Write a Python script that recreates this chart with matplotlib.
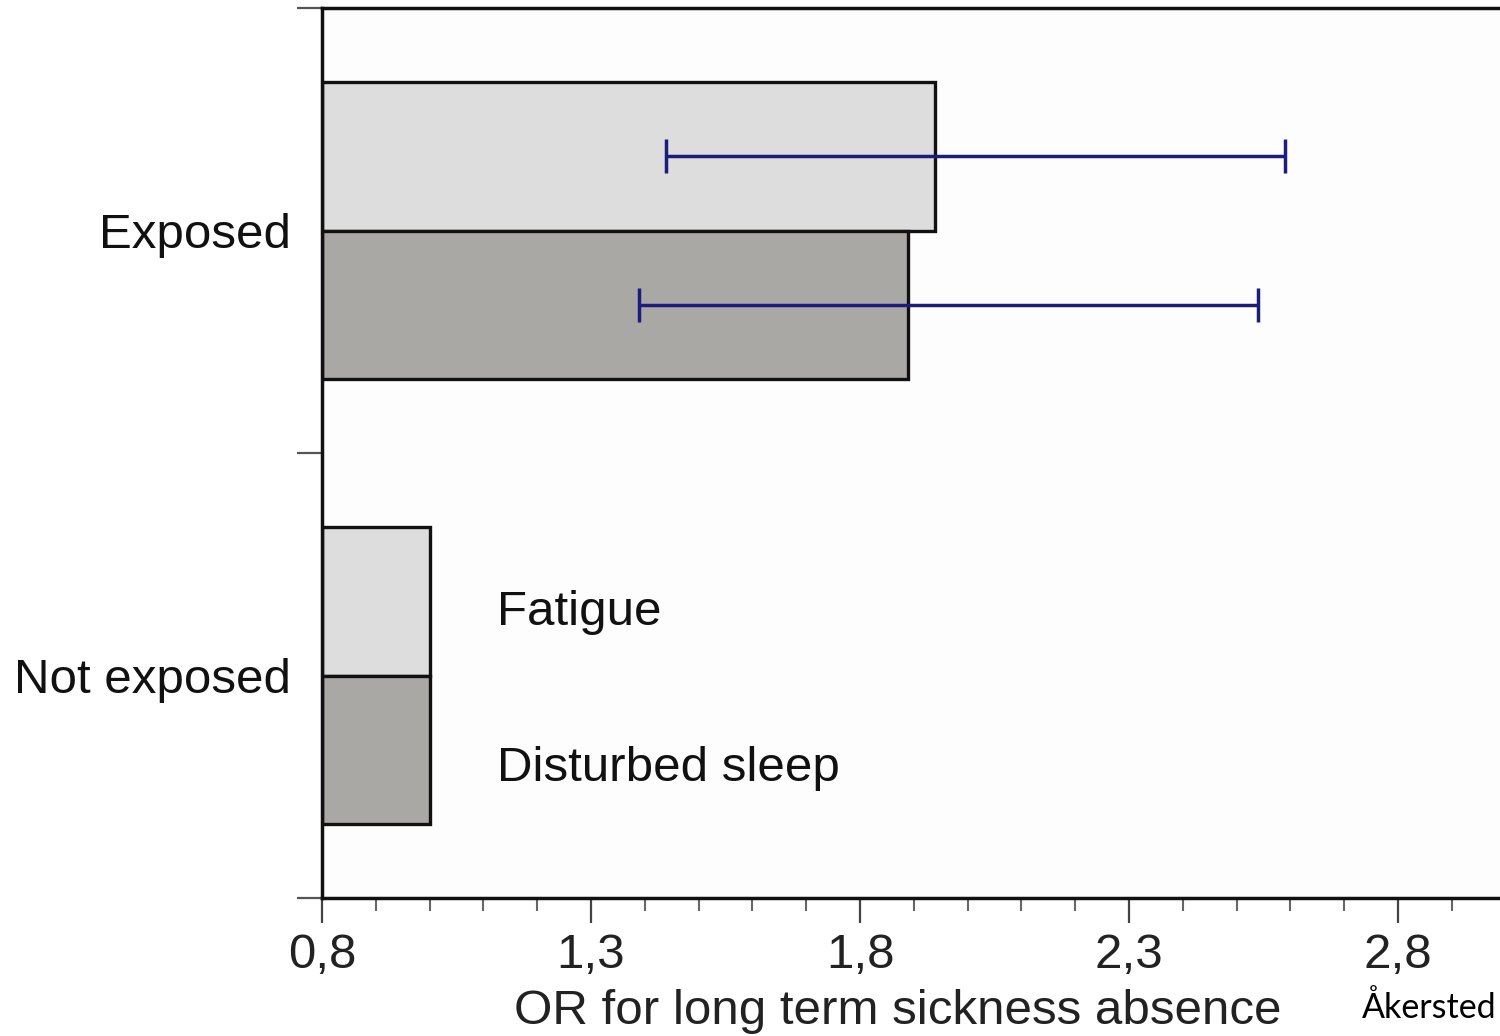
import matplotlib
matplotlib.use("Agg")
import matplotlib.pyplot as plt
import numpy as np

# Data
groups = ["Not exposed", "Exposed"]
series = ["Fatigue", "Disturbed sleep"]
or_fatigue = [1.0, 1.94]
or_sleep = [1.0, 1.89]
ci_fatigue_low = [None, 1.44]
ci_fatigue_high = [None, 2.59]
ci_sleep_low = [None, 1.39]
ci_sleep_high = [None, 2.54]
xticks = [0.8, 1.3, 1.8, 2.3, 2.8]
xticklabels = ["0,8", "1,3", "1,8", "2,3", "2,8"]

plt.rcParams['font.family'] = ['Liberation Sans', 'DejaVu Sans']

fig = plt.figure(figsize=(15, 10.36), dpi=100)
ax = fig.add_axes([322/1500, 1-898/1036, 1-322/1500, (898-8)/1036])
ax.set_facecolor('#fdfdfd')

base = 0.8
h = 1/3
c_fat = '#dcdddc'
c_slp = '#aaa8a5'
err_c = '#1c1c7c'
FS = 35.5
for i in range(len(groups)):
    yf = i + 0.5 + h/2
    ys = i + 0.5 - h/2
    ax.barh(yf, or_fatigue[i]-base, left=base, height=h, color=c_fat,
            edgecolor='#111111', linewidth=2.4, zorder=2)
    ax.barh(ys, or_sleep[i]-base, left=base, height=h, color=c_slp,
            edgecolor='#111111', linewidth=2.4, zorder=2)
    if ci_fatigue_low[i] is not None:
        ax.errorbar([(ci_fatigue_low[i]+ci_fatigue_high[i])/2], [yf],
                    xerr=[[(ci_fatigue_high[i]-ci_fatigue_low[i])/2]],
                    fmt='none', ecolor=err_c, elinewidth=2.5, capsize=12,
                    capthick=2.5, zorder=3)
        ax.errorbar([(ci_sleep_low[i]+ci_sleep_high[i])/2], [ys],
                    xerr=[[(ci_sleep_high[i]-ci_sleep_low[i])/2]],
                    fmt='none', ecolor=err_c, elinewidth=2.5, capsize=12,
                    capthick=2.5, zorder=3)

ax.text(1.125, 0.5 + h/2 - 0.025, series[0], fontsize=FS, va='center', ha='left', color='#111111')
ax.text(1.125, 0.5 - h/2 - 0.042, series[1], fontsize=FS, va='center', ha='left', color='#111111')

ax.set_xlim(0.8, 0.8 + 1178/538)
ax.set_ylim(0, 2)

ax.set_xticks(xticks)
ax.set_xticklabels(xticklabels, fontsize=FS, color='#222222')
ax.set_xticks(np.arange(0.9, 3.0, 0.1), minor=True)
ax.tick_params(axis='x', which='major', direction='out', length=18, width=1.6,
               color='#444444', pad=7)
ax.tick_params(axis='x', which='minor', direction='out', length=9, width=1.5,
               color='#666666')

ax.set_yticks([0, 1, 2])
ax.set_yticklabels(['', '', ''])
ax.set_yticks([0.5, 1.5], minor=True)
ax.set_yticklabels(groups, minor=True, fontsize=FS, color='#111111')
ax.tick_params(axis='y', which='major', direction='out', length=18, width=1.6,
               color='#555555')
ax.tick_params(axis='y', which='minor', length=0, pad=22)

for s in ['left', 'top', 'bottom']:
    ax.spines[s].set_linewidth(2.5)
    ax.spines[s].set_color('#111111')
ax.spines['right'].set_visible(False)

ax.set_xlabel("OR for long term sickness absence", fontsize=FS, color='#222222')
ax.xaxis.set_label_coords((898-322)/1178, (898-1011)/890)
ax.xaxis.label.set_va('center')

fig.text(0.998, 1-1008/1036, "Åkersted", fontsize=24.5, ha='right', va='center',
         family=['Lato', 'DejaVu Sans'], color='#000000')

fig.savefig("out.png", dpi=100)
